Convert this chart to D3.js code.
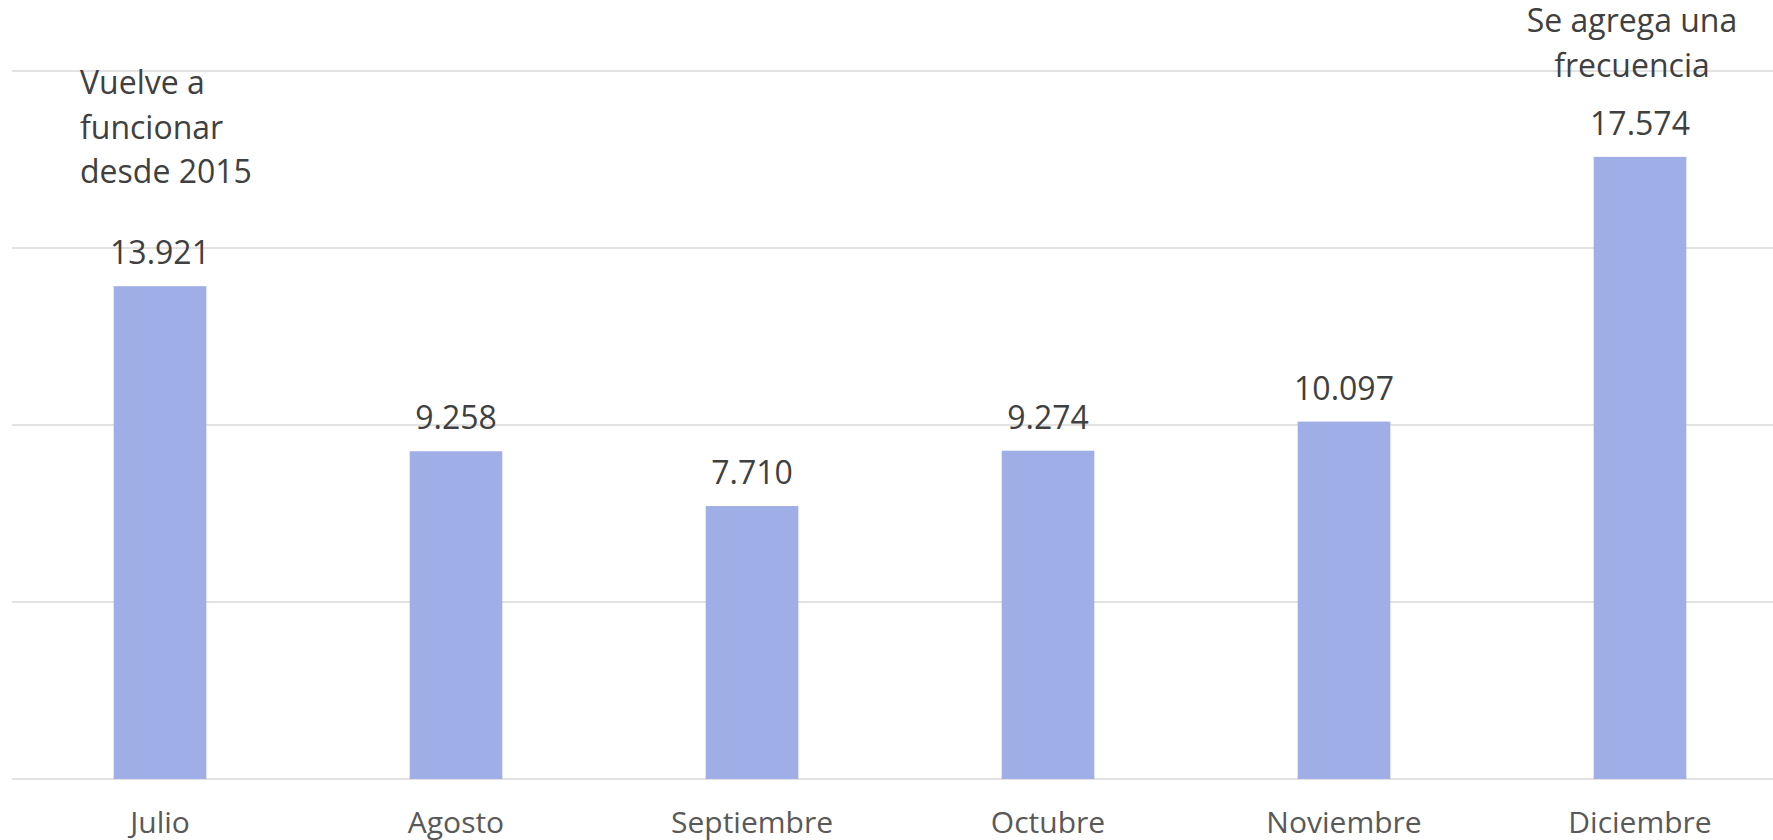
<!DOCTYPE html>
<html>
<head>
<meta charset="utf-8">
<script src="https://cdn.jsdelivr.net/npm/d3@7"></script>
<style>
  body { margin: 0; background: #fff; }
  svg { display: block; font-family: "Open Sans", sans-serif; }
</style>
</head>
<body>
<div class="chart"></div>
<script>
//data
var months = ['Julio', 'Agosto', 'Septiembre', 'Octubre', 'Noviembre', 'Diciembre'];
var values = [13921, 9258, 7710, 9274, 10097, 17574];
var yTicks = [0, 5000, 10000, 15000, 20000];
var notes = [
  {month: 'Julio', lines: ['Vuelve a', 'funcionar', 'desde 2015'], anchor: 'start'},
  {month: 'Diciembre', lines: ['Se agrega una', 'frecuencia'], anchor: 'middle'}
];

//canvas
var size = {'x' : 1773, 'y' : 840};
var svg = d3.select('.chart')
  .append('svg')
    .attr('width', size.x)
    .attr('height', size.y);

//scales
var x = d3.scaleBand()
  .domain(months)
  .range([12, 1788])
  .paddingInner(0.687)
  .paddingOuter(0.3435);

var y = d3.scaleLinear()
  .domain([0, 20000])
  .range([779, 71]);

//gridlines
svg.selectAll('.grid')
  .data(yTicks)
  .enter()
  .append('line')
    .attr('class', 'grid')
    .attr('x1', 12)
    .attr('x2', size.x)
    .attr('y1', function(d){ return y(d) })
    .attr('y2', function(d){ return y(d) })
    .attr('stroke', '#d9d9d9')
    .attr('stroke-width', 1.5);

//bars
svg.selectAll('.bar')
  .data(values)
  .enter()
  .append('rect')
    .attr('class', 'bar')
    .attr('x', function(d, i){ return x(months[i]) })
    .attr('y', function(d){ return y(d) })
    .attr('width', x.bandwidth())
    .attr('height', function(d){ return y(0) - y(d) })
    .attr('fill', '#a0aee8');

//value labels
svg.selectAll('.value')
  .data(values)
  .enter()
  .append('text')
    .attr('class', 'value')
    .attr('x', function(d, i){ return x(months[i]) + x.bandwidth() / 2 })
    .attr('y', function(d){ return y(d) - 22 })
    .attr('text-anchor', 'middle')
    .attr('font-size', 32)
    .attr('fill', '#404040')
    .text(function(d){ return d3.format(',')(d).replace(/,/g, '.') });

//month labels
svg.selectAll('.month')
  .data(months)
  .enter()
  .append('text')
    .attr('class', 'month')
    .attr('x', function(d){ return x(d) + x.bandwidth() / 2 })
    .attr('y', 833)
    .attr('text-anchor', 'middle')
    .attr('font-size', 30)
    .attr('fill', '#595959')
    .text(function(d){ return d });

//notes above bars
notes.forEach(function(n){
  var cx = x(n.month) + x.bandwidth() / 2;
  var top = y(values[months.indexOf(n.month)]) - 22 - 44;
  var tx = n.anchor === 'start' ? cx - 80 : cx - 8;
  var t = svg.append('text')
    .attr('font-size', 32)
    .attr('fill', '#404040')
    .attr('text-anchor', n.anchor);
  var first = n.month === 'Julio' ? 94 : 32;
  t.selectAll('tspan')
    .data(n.lines)
    .enter()
    .append('tspan')
      .attr('x', tx)
      .attr('y', function(d, i){ return first + i * 44.5 })
      .text(function(d){ return d });
});
</script>
</body>
</html>
